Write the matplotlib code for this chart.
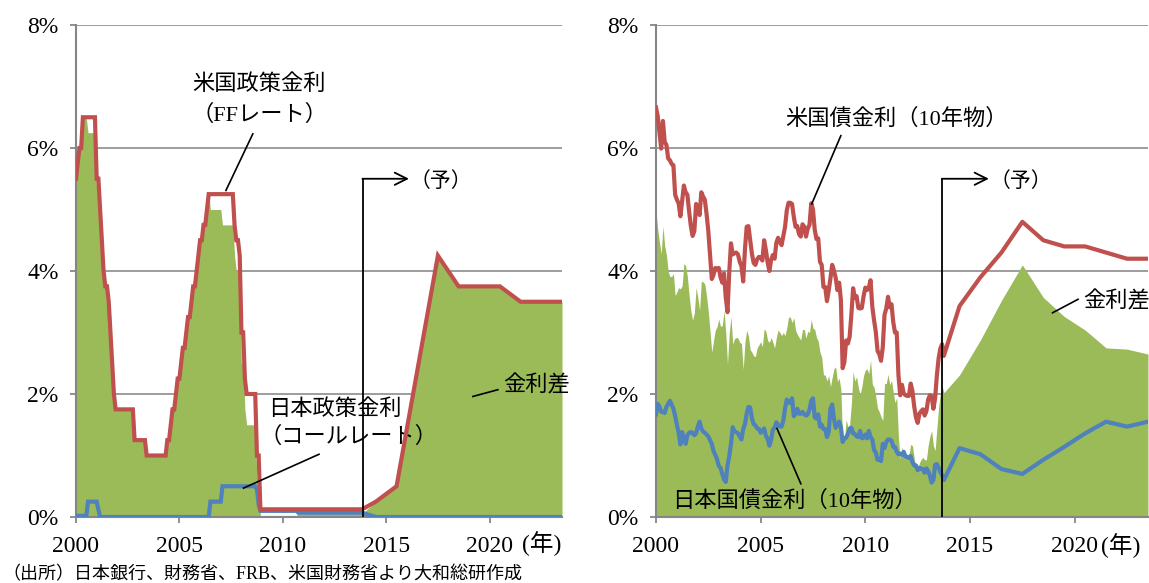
import numpy as np
import matplotlib
matplotlib.use("Agg")
import matplotlib.pyplot as plt

# ── Colours / fonts ─────────────────────────────────────────────────────────
RED = "#C0504D"
BLUE = "#4F81BD"
GREEN = "#9BBB59"
GRID = "#8C8C8C"
SPINE = "#868686"
FONT = ["Liberation Serif", "Noto Sans CJK JP", "DejaVu Sans"]
plt.rcParams["font.family"] = FONT

# ── Left panel data: policy rates (monthly, Jan 2000 - Nov 2013) ────────────
us_ff = [
    5.5, 5.75, 6.0, 6.0, 6.5, 6.5, 6.5, 6.5, 6.5, 6.5, 6.5, 6.5,            # 2000
    5.5, 5.5, 5.0, 4.5, 4.0, 3.75, 3.75, 3.5, 3.0, 2.5, 2.0, 1.75,          # 2001
    1.75, 1.75, 1.75, 1.75, 1.75, 1.75, 1.75, 1.75, 1.75, 1.75, 1.25, 1.25, # 2002
    1.25, 1.25, 1.25, 1.25, 1.25, 1.0, 1.0, 1.0, 1.0, 1.0, 1.0, 1.0,       # 2003
    1.0, 1.0, 1.0, 1.0, 1.0, 1.25, 1.25, 1.5, 1.75, 1.75, 2.0, 2.25,       # 2004
    2.25, 2.5, 2.75, 2.75, 3.0, 3.25, 3.25, 3.5, 3.75, 3.75, 4.0, 4.25,    # 2005
    4.5, 4.5, 4.75, 4.75, 5.0, 5.25, 5.25, 5.25, 5.25, 5.25, 5.25, 5.25,   # 2006
    5.25, 5.25, 5.25, 5.25, 5.25, 5.25, 5.25, 5.25, 4.75, 4.5, 4.5, 4.25,  # 2007
    3.0, 3.0, 2.25, 2.0, 2.0, 2.0, 2.0, 2.0, 2.0, 1.0, 1.0, 0.125,         # 2008
] + [0.125] * 59                                                           # 2009 - Nov 2013

jp_call = (
    [0.02] * 7 + [0.25] * 5            # 2000
    + [0.25, 0.12] + [0.0] * 10        # 2001
    + [0.0] * 48                       # 2002-2005
    + [0.0] * 6 + [0.25] * 6           # 2006
    + [0.25] + [0.5] * 11              # 2007
    + [0.5] * 9 + [0.45, 0.2, 0.1]     # 2008
    + [0.1] * 21 + [0.07] * 38         # 2009 - Nov 2013
)

fc_years_l = [2014.5, 2015.5, 2016.5, 2017.5, 2018.5, 2019.5, 2020.5, 2021.5, 2022.5, 2023.5]
us_ff_fc = [0.25, 0.5, 2.375, 4.25, 3.75, 3.75, 3.75, 3.5, 3.5, 3.5]
jp_call_fc = [0.0, 0.0, 0.0, 0.0, 0.0, 0.0, 0.0, 0.0, 0.0, 0.0]

# ── Right panel data: 10y yields (monthly, Jan 2000 - Oct 2013) ─────────────
us_10y = [
    6.66, 6.52, 6.26, 5.99, 6.44, 6.10, 6.05, 5.83, 5.80, 5.74, 5.72, 5.24,
    5.16, 5.10, 4.89, 5.14, 5.39, 5.28, 5.24, 4.97, 4.73, 4.57, 4.65, 5.09,
    5.04, 4.91, 5.28, 5.21, 5.16, 4.93, 4.65, 4.26, 3.87, 3.94, 4.05, 4.03,
    4.05, 3.90, 3.81, 3.96, 3.57, 3.33, 3.98, 4.45, 4.27, 4.29, 4.30, 4.27,
    4.15, 4.08, 3.83, 4.35, 4.72, 4.73, 4.50, 4.28, 4.13, 4.10, 4.19, 4.23,
    4.22, 4.17, 4.50, 4.34, 4.14, 4.00, 4.18, 4.26, 4.20, 4.46, 4.54, 4.47,
    4.42, 4.57, 4.72, 4.99, 5.11, 5.11, 5.09, 4.88, 4.72, 4.73, 4.60, 4.56,
    4.76, 4.72, 4.56, 4.69, 4.75, 5.10, 5.00, 4.67, 4.52, 4.53, 4.15, 4.10,
    3.74, 3.74, 3.51, 3.68, 3.88, 4.10, 4.01, 3.89, 3.69, 3.81, 3.53, 2.42,
    2.52, 2.87, 2.82, 2.93, 3.29, 3.72, 3.56, 3.59, 3.40, 3.39, 3.40, 3.59,
    3.73, 3.69, 3.73, 3.85, 3.42, 3.20, 3.01, 2.70, 2.65, 2.54, 2.76, 3.29,
    3.39, 3.58, 3.41, 3.46, 3.17, 3.00, 3.00, 2.30, 1.98, 2.15, 2.01, 1.98,
    1.97, 1.97, 2.17, 2.05, 1.80, 1.62, 1.53, 1.68, 1.72, 1.75, 1.65, 1.72,
    1.91, 1.98, 1.96, 1.76, 1.93, 2.30, 2.58, 2.74, 2.81, 2.62,
]
jp_10y = [
    1.67, 1.84, 1.79, 1.71, 1.71, 1.69, 1.79, 1.84, 1.89, 1.83, 1.76, 1.64,
    1.50, 1.37, 1.18, 1.38, 1.27, 1.19, 1.33, 1.37, 1.38, 1.37, 1.33, 1.36,
    1.47, 1.55, 1.44, 1.39, 1.37, 1.34, 1.31, 1.25, 1.19, 1.07, 1.01, 0.94,
    0.83, 0.80, 0.70, 0.61, 0.57, 0.84, 0.99, 1.19, 1.46, 1.39, 1.38, 1.36,
    1.31, 1.26, 1.43, 1.51, 1.68, 1.79, 1.78, 1.60, 1.51, 1.49, 1.44, 1.43,
    1.37, 1.40, 1.44, 1.32, 1.27, 1.16, 1.26, 1.42, 1.45, 1.54, 1.50, 1.47,
    1.47, 1.57, 1.77, 1.91, 1.86, 1.86, 1.93, 1.64, 1.68, 1.76, 1.68, 1.68,
    1.71, 1.67, 1.65, 1.67, 1.75, 1.89, 1.93, 1.62, 1.60, 1.67, 1.47, 1.50,
    1.43, 1.43, 1.30, 1.38, 1.76, 1.83, 1.60, 1.45, 1.49, 1.55, 1.46, 1.22,
    1.28, 1.29, 1.35, 1.43, 1.45, 1.36, 1.35, 1.31, 1.30, 1.40, 1.28, 1.29,
    1.34, 1.28, 1.40, 1.30, 1.26, 1.09, 1.05, 0.93, 0.94, 0.91, 1.19, 1.12,
    1.22, 1.26, 1.26, 1.24, 1.14, 1.14, 1.06, 1.02, 1.03, 1.01, 1.06, 0.98,
    0.98, 0.96, 0.99, 0.89, 0.84, 0.84, 0.76, 0.80, 0.78, 0.78, 0.72, 0.79,
    0.75, 0.67, 0.56, 0.60, 0.85, 0.86, 0.80, 0.73, 0.68, 0.60,
]

fc_years_r = [2014.5, 2015.5, 2016.5, 2017.5, 2018.5, 2019.5, 2020.5, 2021.5, 2022.5, 2023.5]
us_10y_fc = [3.43, 3.9, 4.3, 4.8, 4.5, 4.4, 4.4, 4.3, 4.2, 4.2]
jp_10y_fc = [1.12, 1.02, 0.78, 0.70, 0.93, 1.14, 1.36, 1.55, 1.47, 1.55]

yticks = [0, 2, 4, 6, 8]
xticks = [2000, 2005, 2010, 2015, 2020]


def build(monthly, fc_x, fc_y):
    x = 2000 + np.arange(len(monthly)) / 12.0
    return np.concatenate([x, fc_x]), np.concatenate([monthly, fc_y])


def style_axes(ax):
    ax.set_xlim(2000, 2023.5)
    ax.set_ylim(0, 8)
    ax.set_yticks(yticks)
    ax.set_yticklabels([f"{v}%" for v in yticks])
    ax.set_xticks(xticks)
    ax.set_xticklabels([str(v) for v in xticks])
    ax.set_axisbelow(True)
    ax.yaxis.grid(True, color=GRID, lw=1.2)
    for s in ["top", "right"]:
        ax.spines[s].set_visible(False)
    for s in ["left", "bottom"]:
        ax.spines[s].set_color(SPINE)
        ax.spines[s].set_linewidth(1.5)
    ax.tick_params(axis="both", direction="out", length=4.5, width=1.3,
                   color=SPINE, labelsize=17, pad=8)
    ax.tick_params(axis="x", pad=9)


def leader(ax, p0, p1):
    ax.plot([p0[0], p1[0]], [p0[1], p1[1]], color="black", lw=1.2, zorder=6)


def forecast_arrow(ax, x0, x1, y):
    ax.plot([x0, x0], [0, y], color="black", lw=1.3, zorder=6)
    ax.annotate("", xy=(x1, y), xytext=(x0 - 0.02, y),
                arrowprops=dict(arrowstyle="->", lw=1.3, color="black",
                                mutation_scale=22, shrinkA=0, shrinkB=0),
                zorder=6)
    ax.text(x1 + 0.05, y - 0.06, "（予）", fontsize=15, ha="left", va="center")


fig = plt.figure(figsize=(11.49, 5.83), dpi=100)
fig.patch.set_facecolor("white")

# ── Left panel ─────────────────────────────────────────────────────────────
ax1 = fig.add_axes([0.06614, 0.1132, 0.42298, 0.8439])
xl, us_l = build(us_ff, fc_years_l, us_ff_fc)
_, jp_l = build(jp_call, fc_years_l, jp_call_fc)
ax1.fill_between(xl, 0, us_l - jp_l, color=GREEN, lw=0, zorder=2)
ax1.plot(xl, jp_l, color=BLUE, lw=3.0, zorder=3, solid_joinstyle="miter")
ax1.plot(xl, us_l, color=RED, lw=3.0, zorder=4, solid_joinstyle="miter")
style_axes(ax1)

ax1.text(2008.85, 7.03, "米国政策金利", fontsize=16, ha="center", va="center")
ax1.text(2008.85, 6.53, "（FFレート）", fontsize=16, ha="center", va="center")
leader(ax1, (2008.55, 6.23), (2007.25, 5.31))
ax1.text(2009.3, 1.75, "日本政策金利", fontsize=16, ha="left", va="center")
ax1.text(2008.85, 1.29, "（コールレート）", fontsize=16, ha="left", va="center")
leader(ax1, (2011.75, 1.02), (2008.1, 0.47))
ax1.text(2020.65, 2.13, "金利差", fontsize=16, ha="left", va="center")
leader(ax1, (2020.4, 2.07), (2019.19, 1.96))
forecast_arrow(ax1, 2013.87, 2016.1, 5.5)
ax1.text(2021.55, -0.053, "(年)", fontsize=17, ha="left", va="center",
         transform=ax1.get_xaxis_transform())

# ── Right panel ────────────────────────────────────────────────────────────
ax2 = fig.add_axes([0.5709, 0.1132, 0.4282, 0.8439])
xr, us_r = build(us_10y, fc_years_r, us_10y_fc)
_, jp_r = build(jp_10y, fc_years_r, jp_10y_fc)
ax2.fill_between(xr, 0, us_r - jp_r, color=GREEN, lw=0, zorder=2)
ax2.plot(xr, jp_r, color=BLUE, lw=3.0, zorder=3)
ax2.plot(xr, us_r, color=RED, lw=3.0, zorder=4)
style_axes(ax2)

ax2.text(2011.5, 6.47, "米国債金利（10年物）", fontsize=16, ha="center", va="center")
leader(ax2, (2008.83, 6.2), (2007.44, 5.09))
ax2.text(2006.6, 0.25, "日本国債金利（10年物）", fontsize=16, ha="center", va="center")
leader(ax2, (2006.92, 0.54), (2005.78, 1.44))
ax2.text(2020.4, 3.5, "金利差", fontsize=16, ha="left", va="center")
leader(ax2, (2020.16, 3.54), (2018.94, 3.32))
forecast_arrow(ax2, 2013.68, 2015.9, 5.5)
ax2.text(2021.25, -0.058, "(年)", fontsize=17, ha="left", va="center",
         transform=ax2.get_xaxis_transform())

# ── Source note ────────────────────────────────────────────────────────────
fig.text(0.002, 0.0137, "（出所）日本銀行、財務省、FRB、米国財務省より大和総研作成",
         fontsize=13, ha="left", va="center")

fig.savefig("out.png", dpi=100, facecolor="white")
